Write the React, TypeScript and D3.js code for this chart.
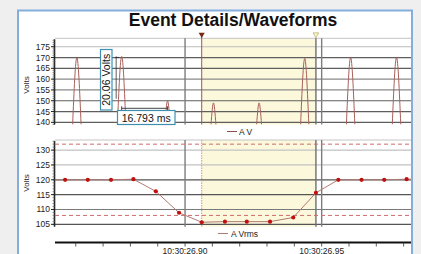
import React, { useEffect, useRef } from 'react';
import * as d3 from 'd3';

// times are ms relative to 10:30:26.900
const peakTimes = [-39.6, -23.2, -6.4, 10.4, 27.1, 43.8, 60.6, 77.4];
const peakVolts = [170, 170.5, 150, 149, 149, 169.6, 170, 170];
const peakHalfWidths = [1.55, 1.55, 0.95, 0.9, 0.9, 1.5, 1.55, 1.55];

const rmsTimes = [-52.3, -43.9, -35.6, -27.1, -18.9, -10.7, -2.2, 6.1, 14.6, 22.6, 31.1, 39.6, 47.9, 56.1, 64.6, 72.9, 81.1, 89.4];
const rmsVolts = [120, 120, 120, 120, 120.2, 116.1, 108.9, 105.7, 105.9, 105.9, 105.9, 107.3, 115.6, 120, 120, 120, 120.2, 120.2];

const thresholds = [132, 108];
const cursorTimes = [6.1, 47.9];
const majorTimes = [0, 50];
const majorLabels = ['10:30:26.90', '10:30:26.95'];
const minorTimes = [-40, -30, -20, -10, 0, 10, 20, 30, 40, 50, 60, 70, 80];

const topTicks = [140, 145, 150, 155, 160, 165, 170, 175];
const bottomTicks = [105, 110, 115, 120, 125, 130];

const FONT = "'Liberation Sans', Arial, sans-serif";

const App: React.FC = () => {
  const svgRef = useRef<SVGSVGElement>(null);

  useEffect(() => {
    if (!svgRef.current) return;
    const svg = d3.select(svgRef.current);
    svg.selectAll('*').remove();

    const left = 55;
    const right = 411;

    const x = d3.scaleLinear().domain([-47.6, 82.7]).range([left, right]);
    const yTop = d3.scaleLinear().domain([139, 178.9]).range([124.5, 38.3]);
    const yBot = d3.scaleLinear().domain([104.2, 133.4]).range([226.7, 140]);

    // page + panel
    svg.append('rect').attr('width', 421).attr('height', 254).attr('fill', '#efefef');
    svg
      .append('rect')
      .attr('x', 18)
      .attr('y', 10.5)
      .attr('width', 394)
      .attr('height', 260)
      .attr('fill', '#ffffff')
      .attr('stroke', '#86aedc')
      .attr('stroke-width', 2);

    svg
      .append('text')
      .attr('x', (left + right) / 2)
      .attr('y', 26)
      .attr('text-anchor', 'middle')
      .attr('font-family', FONT)
      .attr('font-weight', 'bold')
      .attr('font-size', 17.5)
      .attr('fill', '#111')
      .text('Event Details/Waveforms');

    const defs = svg.append('defs');
    defs
      .append('clipPath')
      .attr('id', 'clipTop')
      .append('rect')
      .attr('x', left)
      .attr('y', yTop.range()[1])
      .attr('width', right - left)
      .attr('height', yTop.range()[0] - yTop.range()[1]);
    defs
      .append('clipPath')
      .attr('id', 'clipBot')
      .append('rect')
      .attr('x', left)
      .attr('y', yBot.range()[1])
      .attr('width', right - left)
      .attr('height', yBot.range()[0] - yBot.range()[1]);

    const drawFrame = (
      y: d3.ScaleLinear<number, number>,
      ticks: number[],
      gridColor: (v: number) => string,
      cy: number
    ) => {
      const [y0, y1] = y.range();
      const g = svg.append('g');
      // sag band
      g.append('rect')
        .attr('x', x(cursorTimes[0]))
        .attr('y', y1)
        .attr('width', x(cursorTimes[1]) - x(cursorTimes[0]))
        .attr('height', y0 - y1)
        .attr('fill', '#fcf8dc');
      g.append('line')
        .attr('x1', left)
        .attr('x2', right)
        .attr('y1', y1)
        .attr('y2', y1)
        .attr('stroke', '#c4c4c4');
      g.selectAll('line.grid')
        .data(ticks)
        .enter()
        .append('line')
        .attr('class', 'grid')
        .attr('x1', left)
        .attr('x2', right)
        .attr('y1', (d) => y(d))
        .attr('y2', (d) => y(d))
        .attr('stroke', (d) => gridColor(d))
        .attr('stroke-width', 1.2);
      g.selectAll('line.major')
        .data(majorTimes)
        .enter()
        .append('line')
        .attr('x1', (d) => x(d))
        .attr('x2', (d) => x(d))
        .attr('y1', y1)
        .attr('y2', y0)
        .attr('stroke', '#7d7d7d')
        .attr('stroke-width', 1.4);
      g.append('line')
        .attr('x1', x(cursorTimes[1]))
        .attr('x2', x(cursorTimes[1]))
        .attr('y1', y1)
        .attr('y2', y0)
        .attr('stroke', '#6f6f6f')
        .attr('stroke-width', 1.4);
      // left axis
      const ax = g.append('g');
      ax.append('line')
        .attr('x1', left - 0.5)
        .attr('x2', left - 0.5)
        .attr('y1', y1 + 1)
        .attr('y2', y0)
        .attr('stroke', '#222')
        .attr('stroke-width', 1.6);
      const minor = d3.range(Math.ceil(y.domain()[0]), Math.floor(y.domain()[1]) + 1);
      ax.selectAll('line.minor')
        .data(minor)
        .enter()
        .append('line')
        .attr('x1', left - 2.5)
        .attr('x2', left)
        .attr('y1', (d) => y(d))
        .attr('y2', (d) => y(d))
        .attr('stroke', '#555')
        .attr('stroke-width', 0.6);
      ax.selectAll('line.tick')
        .data(ticks)
        .enter()
        .append('line')
        .attr('x1', left - 4)
        .attr('x2', left)
        .attr('y1', (d) => y(d))
        .attr('y2', (d) => y(d))
        .attr('stroke', '#222');
      ax.selectAll('text')
        .data(ticks)
        .enter()
        .append('text')
        .attr('x', left - 5)
        .attr('y', (d) => y(d) + 3)
        .attr('text-anchor', 'end')
        .attr('font-family', FONT)
        .attr('font-size', 8.5)
        .attr('fill', '#222')
        .text((d) => d);
      g.append('text')
        .attr('transform', `translate(29, ${cy}) rotate(-90)`)
        .attr('text-anchor', 'middle')
        .attr('font-family', FONT)
        .attr('font-size', 8)
        .attr('fill', '#222')
        .text('Volts');
      return g;
    };

    // ---- top chart (instantaneous voltage)
    drawFrame(
      yTop,
      topTicks,
      (v) => (v === 175 ? '#bdbdbd' : v === 160 || v === 155 ? '#8a8a8a' : '#5e5e5e'),
      85
    );

    svg
      .append('line')
      .attr('x1', x(cursorTimes[0]))
      .attr('x2', x(cursorTimes[0]))
      .attr('y1', 36)
      .attr('y2', yTop.range()[0])
      .attr('stroke', '#9a5a4a')
      .attr('stroke-width', 1);
    svg
      .append('path')
      .attr('d', d3.symbol(d3.symbolTriangle, 16)())
      .attr('transform', `translate(${x(cursorTimes[0])}, 34.5) rotate(180)`)
      .attr('fill', '#7a2418');
    svg
      .append('path')
      .attr('d', d3.symbol(d3.symbolTriangle, 14)())
      .attr('transform', `translate(${x(cursorTimes[1])}, 34.5) rotate(180)`)
      .attr('fill', '#fff6b0')
      .attr('stroke', '#a09a70')
      .attr('stroke-width', 0.6);

    const bottomV = yTop.domain()[0];
    const humpLine = d3
      .line<[number, number]>()
      .x((d) => x(d[0]))
      .y((d) => yTop(d[1]))
      .curve(d3.curveNatural);
    svg
      .append('g')
      .attr('clip-path', 'url(#clipTop)')
      .selectAll('path')
      .data(peakTimes)
      .enter()
      .append('path')
      .attr('d', (t, i) =>
        humpLine([
          [t - peakHalfWidths[i], bottomV],
          [t, peakVolts[i]],
          [t + peakHalfWidths[i], bottomV],
        ])
      )
      .attr('fill', 'none')
      .attr('stroke', '#a8605a')
      .attr('stroke-width', 1);

    // measurement annotation
    const ann = svg.append('g');
    const mx = x(peakTimes[1]) - 5.5;
    ann.append('line')
      .attr('x1', mx)
      .attr('x2', mx)
      .attr('y1', yTop(peakVolts[1]))
      .attr('y2', yTop(peakVolts[2]) - 2)
      .attr('stroke', '#333')
      .attr('stroke-width', 0.8);
    ann.append('path')
      .attr('d', `M${mx - 1},${yTop(peakVolts[1]) + 1}h4`)
      .attr('stroke', '#333');
    const my = yTop(146.5);
    ann.append('line')
      .attr('x1', x(peakTimes[1]))
      .attr('x2', x(peakTimes[2]))
      .attr('y1', my)
      .attr('y2', my)
      .attr('stroke', '#444')
      .attr('stroke-width', 1);
    [peakTimes[1], peakTimes[2]].forEach((t) => {
      ann.append('line')
        .attr('x1', x(t))
        .attr('x2', x(t))
        .attr('y1', my - 2)
        .attr('y2', my + 2)
        .attr('stroke', '#444');
    });
    ann.append('rect')
      .attr('x', 100.5)
      .attr('y', 49.5)
      .attr('width', 11.5)
      .attr('height', 60.5)
      .attr('fill', '#fff')
      .attr('stroke', '#3f8fb0')
      .attr('stroke-width', 1.2);
    ann.append('text')
      .attr('transform', `translate(110, 79.8) rotate(-90)`)
      .attr('text-anchor', 'middle')
      .attr('font-family', FONT)
      .attr('font-size', 10.5)
      .attr('fill', '#111')
      .text('20.06 Volts');
    ann.append('rect')
      .attr('x', 117.5)
      .attr('y', 110.5)
      .attr('width', 57.5)
      .attr('height', 14)
      .attr('fill', '#fff')
      .attr('stroke', '#3f8fb0')
      .attr('stroke-width', 1.2);
    ann.append('text')
      .attr('x', 146.2)
      .attr('y', 121.5)
      .attr('text-anchor', 'middle')
      .attr('font-family', FONT)
      .attr('font-size', 10.5)
      .attr('fill', '#111')
      .text('16.793 ms');

    // legend top
    svg.append('line')
      .attr('x1', 227)
      .attr('x2', 237)
      .attr('y1', 131.5)
      .attr('y2', 131.5)
      .attr('stroke', '#8a5050');
    svg.append('text')
      .attr('x', 239)
      .attr('y', 134.5)
      .attr('font-family', FONT)
      .attr('font-size', 8.5)
      .attr('fill', '#222')
      .text('A V');

    // ---- bottom chart (RMS)
    drawFrame(
      yBot,
      bottomTicks,
      (v) => (v >= 125 ? '#c2c2c2' : v === 110 ? '#7a7a7a' : '#555'),
      183
    );

    svg
      .append('line')
      .attr('x1', x(cursorTimes[0]))
      .attr('x2', x(cursorTimes[0]))
      .attr('y1', yBot.range()[1])
      .attr('y2', yBot.range()[0])
      .attr('stroke', '#c8a070')
      .attr('stroke-width', 1)
      .attr('stroke-dasharray', '1.5,1');

    const plotBot = svg.append('g').attr('clip-path', 'url(#clipBot)');
    plotBot
      .selectAll('line.th')
      .data(thresholds)
      .enter()
      .append('line')
      .attr('x1', left)
      .attr('x2', right)
      .attr('y1', (d) => yBot(d))
      .attr('y2', (d) => yBot(d))
      .attr('stroke', '#cf6b6b')
      .attr('stroke-width', 1)
      .attr('stroke-dasharray', '4,3');

    const rmsLine = d3
      .line<number>()
      .x((t) => x(t))
      .y((_t, i) => yBot(rmsVolts[i]));
    plotBot
      .append('path')
      .attr('d', rmsLine(rmsTimes))
      .attr('fill', 'none')
      .attr('stroke', '#b07a74')
      .attr('stroke-width', 1);
    plotBot
      .selectAll('circle')
      .data(rmsTimes)
      .enter()
      .append('circle')
      .attr('cx', (t) => x(t))
      .attr('cy', (_t, i) => yBot(rmsVolts[i]))
      .attr('r', 2.1)
      .attr('fill', '#c01010');

    svg.append('line')
      .attr('x1', 218)
      .attr('x2', 228)
      .attr('y1', 233.5)
      .attr('y2', 233.5)
      .attr('stroke', '#b07a74');
    svg.append('text')
      .attr('x', 231)
      .attr('y', 236.5)
      .attr('font-family', FONT)
      .attr('font-size', 8.5)
      .attr('fill', '#222')
      .text('A Vrms');

    // time axis
    const axisY = 242.5;
    svg.append('line')
      .attr('x1', left)
      .attr('x2', right)
      .attr('y1', axisY)
      .attr('y2', axisY)
      .attr('stroke', '#111')
      .attr('stroke-width', 2);
    svg.selectAll('line.xt')
      .data(minorTimes)
      .enter()
      .append('line')
      .attr('x1', (t) => x(t))
      .attr('x2', (t) => x(t))
      .attr('y1', axisY)
      .attr('y2', axisY + 4)
      .attr('stroke', '#333')
      .attr('stroke-width', 0.8);
    svg.selectAll('text.xl')
      .data(majorTimes)
      .enter()
      .append('text')
      .attr('x', (t) => x(t))
      .attr('y', 253.5)
      .attr('text-anchor', 'middle')
      .attr('font-family', FONT)
      .attr('font-size', 8.5)
      .attr('fill', '#222')
      .text((_t, i) => majorLabels[i]);
  }, []);

  return (
    <svg
      ref={svgRef}
      width={421}
      height={254}
      style={{ position: 'absolute', left: 0, top: 0, display: 'block' }}
    ></svg>
  );
};

export default App;
